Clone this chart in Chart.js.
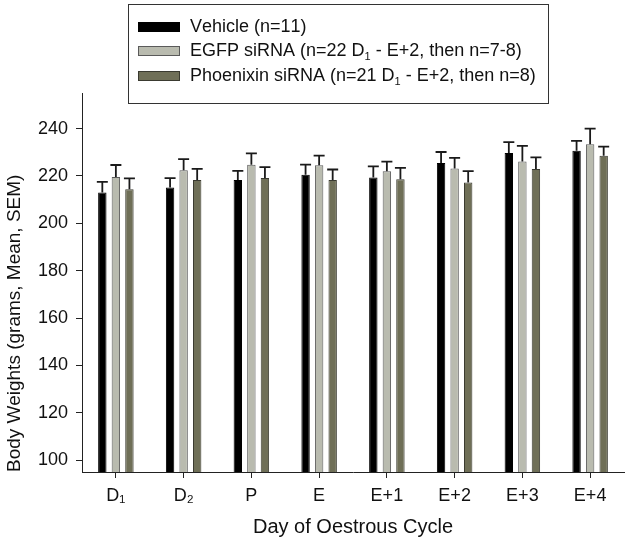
<!DOCTYPE html>
<html><head><meta charset="utf-8">
<script src="https://cdn.jsdelivr.net/npm/chart.js@4"></script>
<style>html,body{margin:0;padding:0;background:#fff;} #wrap{width:629px;height:545px;position:relative;}</style>
</head><body><div id="wrap"><canvas id="c"></canvas></div>
<script>
const categories = ['D₁', 'D₂', 'P', 'E', 'E+1', 'E+2', 'E+3', 'E+4'];
const seriesLabels = [
  'Vehicle (n=11)',
  'EGFP siRNA (n=22 D₁ - E+2, then n=7-8)',
  'Phoenixin siRNA (n=21 D₁ - E+2, then n=8)'
];
const vehicle = [213.0, 215.1, 218.3, 220.5, 219.3, 225.4, 229.7, 230.6];
const vehicleSem = [4.5, 4.0, 3.8, 4.3, 4.7, 4.7, 4.6, 4.2];
const egfp = [219.5, 222.4, 224.7, 224.5, 222.0, 223.1, 226.1, 233.4];
const egfpSem = [5.1, 4.7, 4.8, 4.1, 4.0, 4.5, 6.6, 6.6];
const phoenixin = [214.4, 218.3, 219.1, 218.3, 218.6, 217.2, 222.9, 228.5];
const phoenixinSem = [4.6, 4.7, 4.6, 4.4, 4.8, 4.8, 4.9, 3.9];
const yTickValues = [100, 120, 140, 160, 180, 200, 220, 240];
const yTitle = 'Body Weights (grams, Mean, SEM)';
const xTitle = 'Day of Oestrous Cycle';

const FONT = "'Liberation Sans', Arial, sans-serif";
const fills = ['#000000', '#b9bbaf', '#6f6f57'];
const borders = ['#000000', '#5a5a5a', '#3a3a30'];
const sems = [vehicleSem, egfpSem, phoenixinSem];

const errorBars = {
  id: 'errorBars',
  afterDatasetsDraw(chart) {
    const ctx = chart.ctx, ys = chart.scales.y;
    ctx.save();
    ctx.strokeStyle = '#1a1a1a';
    ctx.lineWidth = 1.8;
    chart.data.datasets.forEach((ds, i) => {
      const meta = chart.getDatasetMeta(i);
      meta.data.forEach((bar, j) => {
        const v = ds.data[j], s = sems[i][j];
        const top = ys.getPixelForValue(v + s);
        ctx.beginPath();
        ctx.moveTo(bar.x, bar.y);
        ctx.lineTo(bar.x, top);
        ctx.moveTo(bar.x - 5.5, top);
        ctx.lineTo(bar.x + 5.5, top);
        ctx.stroke();
      });
    });
    ctx.restore();
  }
};

const subMap = {'₀':'0','₁':'1','₂':'2','₃':'3','₄':'4','₅':'5','₆':'6','₇':'7','₈':'8','₉':'9'};
function drawRich(ctx, text, x, y, size) {
  let cx = x;
  for (const ch of text) {
    if (subMap[ch]) {
      ctx.font = Math.round(size * 0.62) + 'px ' + FONT;
      ctx.fillText(subMap[ch], cx, y + size * 0.32);
      cx += ctx.measureText(subMap[ch]).width;
    } else {
      ctx.font = size + 'px ' + FONT;
      ctx.fillText(ch, cx, y);
      cx += ctx.measureText(ch).width;
    }
  }
}

const boxLegend = {
  id: 'boxLegend',
  afterDraw(chart) {
    const ctx = chart.ctx;
    ctx.save();
    ctx.strokeStyle = '#333';
    ctx.lineWidth = 1;
    ctx.strokeRect(128.5, 4.5, 420, 99);
    const rows = [27, 51, 76];
    chart.data.datasets.forEach((ds, i) => {
      const y = rows[i];
      ctx.fillStyle = ds.backgroundColor;
      ctx.fillRect(138, y - 5, 42, 10);
      ctx.strokeStyle = ds.borderColor;
      ctx.strokeRect(138.5, y - 4.5, 41, 9);
      ctx.fillStyle = '#111';
      ctx.textBaseline = 'middle';
      ctx.textAlign = 'left';
      drawRich(ctx, ds.label, 190, y, 18);
    });
    ctx.restore();
  }
};

const datasets = [vehicle, egfp, phoenixin].map((d, i) => ({
  label: seriesLabels[i],
  data: d,
  backgroundColor: fills[i],
  borderColor: borders[i],
  borderWidth: 1,
  categoryPercentage: 0.6,
  barPercentage: 0.62
}));

new Chart(document.getElementById('c'), {
  type: 'bar',
  data: { labels: categories, datasets },
  options: {
    responsive: true,
    maintainAspectRatio: false,
    animation: false,
    layout: { padding: { top: 93, right: 5, left: 0, bottom: 0 } },
    plugins: { legend: { display: false }, tooltip: { enabled: false } },
    scales: {
      x: {
        afterFit(s) { s.height = 73; },
        border: { color: '#222', width: 1 },
        grid: { offset: false, drawOnChartArea: false, drawTicks: true, tickLength: 6, color: '#222' },
        ticks: { color: '#111', padding: 7, font: { family: FONT, size: 18 }, maxRotation: 0 },
        title: { display: true, text: xTitle, color: '#111', font: { family: FONT, size: 20 }, padding: { top: 4, bottom: 6 } }
      },
      y: {
        min: 95,
        max: 255,
        afterFit(s) { s.width = 82; },
        afterBuildTicks(s) { s.ticks = yTickValues.map(v => ({ value: v })); },
        border: { color: '#222', width: 1 },
        grid: { drawOnChartArea: false, drawTicks: true, tickLength: 6, color: '#222' },
        ticks: { color: '#111', padding: 8, font: { family: FONT, size: 18 } },
        title: { display: true, text: yTitle, align: 'start', color: '#111', font: { family: FONT, size: 19 }, padding: { top: 3, bottom: 4 } }
      }
    }
  },
  plugins: [errorBars, boxLegend]
});
</script></body></html>
